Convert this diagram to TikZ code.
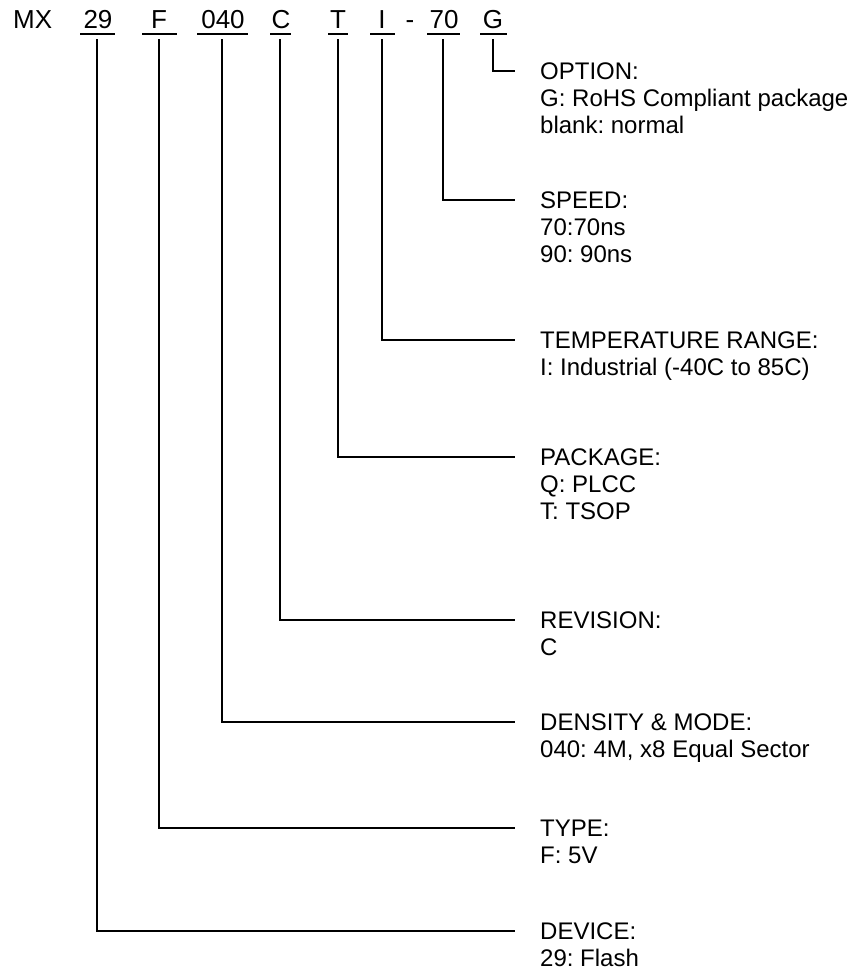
\documentclass[tikz,border=0pt]{standalone}
\usepackage{fontspec}
\setmainfont{Liberation Sans}
\frenchspacing
\begin{document}
\begin{tikzpicture}[x=1pt,y=-1pt,
  lbl/.style={font=\fontsize{24}{27}\selectfont\frenchspacing, inner sep=0pt, align=left, anchor=north west},
  code/.style={font=\fontsize{26}{30}\selectfont, inner sep=0pt, anchor=base},
  uline/.style={line width=1.8pt},
  conn/.style={line width=1.8pt}]
\useasboundingbox (0,0) rectangle (852,977);
% top row
\node[code, anchor=base west] (mx) at (13,28) {MX};
\node[code] (c29) at (98,28) {29};
\node[code] (cF) at (159,28) {F};
\node[code] (c040) at (223,28) {040};
\node[code] (cC) at (281,28) {C};
\node[code] (cT) at (338,28) {T};
\node[code] (cI) at (382,28) {I};
\node[code] (cdash) at (410,28) {-};
\node[code] (c70) at (444,28) {70};
\node[code] (cG) at (493,28) {G};
% underlines
\draw[uline] (80,34) -- (115,34);
\draw[uline] (142,34) -- (177,34);
\draw[uline] (197,34) -- (248,34);
\draw[uline] (270,34) -- (291,34);
\draw[uline] (328,34) -- (348,34);
\draw[uline] (370,34) -- (395,34);
\draw[uline] (427,34) -- (460,34);
\draw[uline] (480,34) -- (507,34);
% stem tops
\coordinate (s29) at (97,39);
\coordinate (sF) at (159,39);
\coordinate (s040) at (222,39);
\coordinate (sC) at (280,39);
\coordinate (sT) at (338,39);
\coordinate (sI) at (382,39);
\coordinate (s70) at (443,39);
\coordinate (sG) at (493,39);
% line ends
\coordinate (eG) at (515,71);
\coordinate (e70) at (515,200);
\coordinate (eI) at (515,340);
\coordinate (eT) at (515,457);
\coordinate (eC) at (515,620);
\coordinate (e040) at (515,722);
\coordinate (eF) at (515,828);
\coordinate (e29) at (515,931);
% labels
\node[lbl] (lG) at (540,62.5) {OPTION:\\G: RoHS Compliant package\\blank: normal};
\node[lbl] (l70) at (540,191.5) {SPEED:\\70:70ns\\90: 90ns};
\node[lbl] (lI) at (540,331.5) {TEMPERATURE RANGE:\\I: Industrial (-40C to 85C)};
\node[lbl] (lT) at (540,448.5) {PACKAGE:\\Q: PLCC\\T: TSOP};
\node[lbl] (lC) at (540,611.5) {REVISION:\\C};
\node[lbl] (l040) at (540,713.5) {DENSITY \& MODE:\\040: 4M, x8 Equal Sector};
\node[lbl] (lF) at (540,819.5) {TYPE:\\F: 5V};
\node[lbl] (l29) at (540,922.5) {DEVICE:\\29: Flash};
% connectors
\draw[conn] (sG) |- (eG);
\draw[conn] (s70) |- (e70);
\draw[conn] (sI) |- (eI);
\draw[conn] (sT) |- (eT);
\draw[conn] (sC) |- (eC);
\draw[conn] (s040) |- (e040);
\draw[conn] (sF) |- (eF);
\draw[conn] (s29) |- (e29);
\end{tikzpicture}
\end{document}
